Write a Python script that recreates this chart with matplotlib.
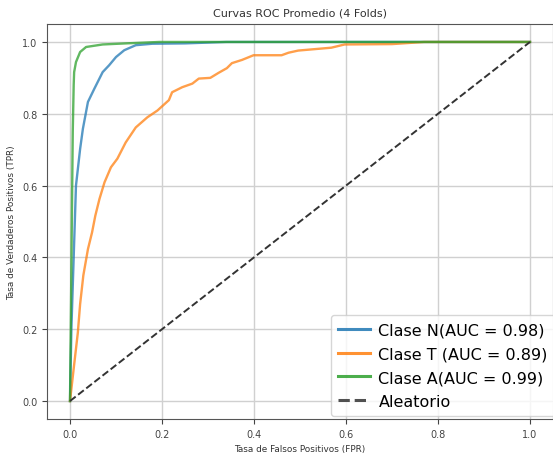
import matplotlib
matplotlib.use("Agg")
import matplotlib.pyplot as plt

title = "Curvas ROC Promedio (4 Folds)"
xlabel = "Tasa de Falsos Positivos (FPR)"
ylabel = "Tasa de Verdaderos Positivos (TPR)"

labels = ["Clase N(AUC = 0.98)", "Clase T (AUC = 0.89)", "Clase A(AUC = 0.99)"]
colors = ["#1f77b4", "#ff7f0e", "#2ca02c"]

fpr_n = [0.0, 0.003, 0.008, 0.013, 0.022, 0.028, 0.039, 0.053, 0.071, 0.085, 0.100,
         0.118, 0.143, 0.179, 0.25, 0.34, 0.5, 1.0]
tpr_n = [0.0, 0.2, 0.4, 0.6, 0.702, 0.758, 0.833, 0.87, 0.916, 0.935, 0.958,
         0.977, 0.991, 0.995, 0.996, 1.0, 1.0, 1.0]

fpr_t = [0.0, 0.008, 0.017, 0.022, 0.029, 0.039, 0.048, 0.055, 0.064, 0.075, 0.089,
         0.103, 0.121, 0.143, 0.168, 0.19, 0.215, 0.222, 0.244, 0.266, 0.28, 0.305,
         0.323, 0.341, 0.352, 0.374, 0.399, 0.46, 0.475, 0.496, 0.532, 0.568,
         0.597, 0.70, 0.77, 1.0]
tpr_t = [0.0, 0.09, 0.19, 0.27, 0.35, 0.423, 0.47, 0.516, 0.5625, 0.609, 0.651,
         0.675, 0.72, 0.762, 0.79, 0.809, 0.838, 0.86, 0.874, 0.884, 0.898, 0.90,
         0.914, 0.927, 0.941, 0.95, 0.963, 0.963, 0.97, 0.976, 0.98, 0.984,
         0.993, 0.994, 1.0, 1.0]

fpr_a = [0.0, 0.004, 0.006, 0.008, 0.009, 0.013, 0.022, 0.035, 0.071, 0.121, 0.194, 1.0]
tpr_a = [0.0, 0.5, 0.75, 0.88, 0.916, 0.944, 0.972, 0.986, 0.993, 0.996, 1.0, 1.0]

random_x = [0.0, 1.0]
random_y = [0.0, 1.0]

fig = plt.figure(figsize=(5.53, 4.56), dpi=100)
ax = fig.add_axes([47/553, 36/456, 1 - 47/553, (420-25)/456])

for fx, ty, lab, c in zip([fpr_n, fpr_t, fpr_a], [tpr_n, tpr_t, tpr_a], labels, colors):
    ax.plot(fx, ty, color=c, lw=1.7, alpha=0.75, label=lab)
ax.plot(random_x, random_y, linestyle="--", color="#333333", lw=1.4, label="Aleatorio")

ax.set_xlim(-0.05, 1.05)
ax.set_ylim(-0.05, 1.05)
ax.set_xticks([0.0, 0.2, 0.4, 0.6, 0.8, 1.0])
ax.set_yticks([0.0, 0.2, 0.4, 0.6, 0.8, 1.0])
ax.tick_params(labelsize=7, colors="#444444")
ax.grid(True, color="#d0d0d0", lw=1)
ax.set_title(title, fontsize=8, color="#333333")
ax.set_xlabel(xlabel, fontsize=6.4, color="#333333")
ax.set_ylabel(ylabel, fontsize=6.4, color="#333333")
for s in ax.spines.values():
    s.set_color("#555555")
leg = ax.legend(loc="lower right", fontsize=11.5, handlelength=2.0,
                handletextpad=0.55, borderpad=0.45, labelspacing=0.55,
                bbox_to_anchor=(1 + 10/506, -5/395))
for line in leg.get_lines():
    line.set_linewidth(2.2)
    line.set_alpha(0.85)

fig.savefig("out.png", dpi=100)
